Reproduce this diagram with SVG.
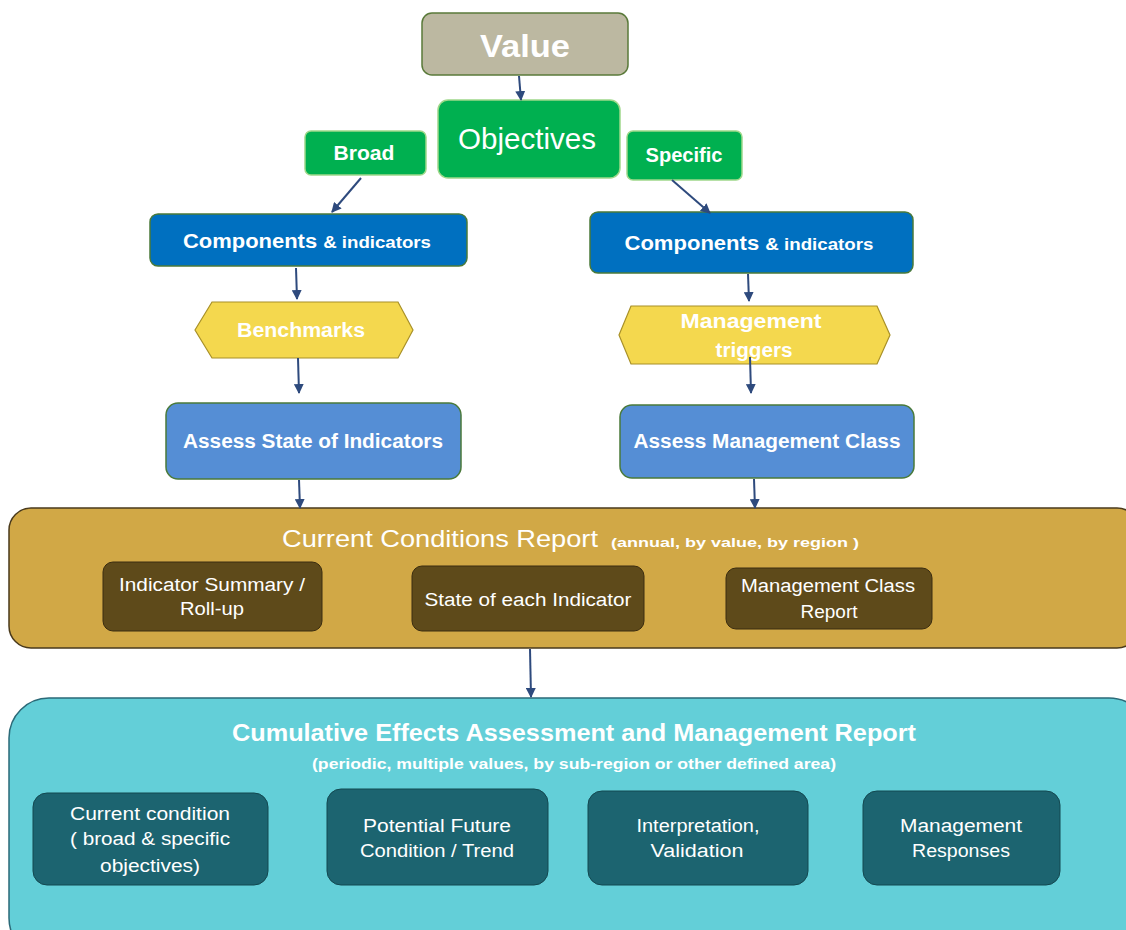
<svg xmlns="http://www.w3.org/2000/svg" width="1126" height="930" viewBox="0 0 1126 930">
<defs>
<marker id="ah" viewBox="0 0 10 10" refX="9" refY="5" markerWidth="5" markerHeight="5" orient="auto">
<path d="M0,0 L10,5 L0,10 z" fill="#2e4a7d"/>
</marker>
<style>
text{font-family:"Liberation Sans",Arial,sans-serif;fill:#ffffff;text-anchor:middle}
.b{font-weight:bold}
.green{fill:#00b050;stroke:#9fd88a;stroke-width:1.5}
.blue{fill:#0070c0;stroke:#4a7a3a;stroke-width:1.5}
.lblue{fill:#558ed5;stroke:#4a7a3a;stroke-width:1.5}
.hex{fill:#f4d84e;stroke:#a89028;stroke-width:1.2}
.brown{fill:#5e4a1a;stroke:#3a2c10;stroke-width:1}
.teal{fill:#1c6470;stroke:#134850;stroke-width:1}
.conn line{stroke:#2e4a7d;stroke-width:2;marker-end:url(#ah)}
</style>
</defs>
<rect width="1126" height="930" fill="#ffffff"/>

<g id="value">
<rect x="422" y="13" width="206" height="62" rx="10" fill="#bcb8a1" stroke="#5a7a3a" stroke-width="1.5"/>
<text x="525" y="57" class="b" font-size="32" textLength="90" lengthAdjust="spacingAndGlyphs">Value</text>
</g>
<g id="objectives">
<rect x="438" y="100" width="182" height="78" rx="10" class="green"/>
<text x="527" y="149" font-size="29" textLength="138" lengthAdjust="spacingAndGlyphs">Objectives</text>
</g>
<g id="broad">
<rect x="305" y="131" width="121" height="44" rx="6" class="green"/>
<text x="364" y="160" class="b" font-size="20" textLength="61" lengthAdjust="spacingAndGlyphs">Broad</text>
</g>
<g id="specific">
<rect x="627" y="131" width="115" height="49" rx="6" class="green"/>
<text x="684" y="162" class="b" font-size="20" textLength="77" lengthAdjust="spacingAndGlyphs">Specific</text>
</g>
<g id="comp-left">
<rect x="150" y="214" width="317" height="52" rx="8" class="blue"/>
<text x="307" y="248" class="b" font-size="20" textLength="248" lengthAdjust="spacingAndGlyphs">Components <tspan font-size="17">&amp; indicators</tspan></text>
</g>
<g id="comp-right">
<rect x="590" y="212" width="323" height="61" rx="8" class="blue"/>
<text x="749" y="250" class="b" font-size="20" textLength="249" lengthAdjust="spacingAndGlyphs">Components <tspan font-size="17">&amp; indicators</tspan></text>
</g>
<g id="benchmarks">
<polygon points="195,330 212,302 398,302 413,330 398,358 212,358" class="hex"/>
<text x="301" y="337" class="b" font-size="20" textLength="128" lengthAdjust="spacingAndGlyphs">Benchmarks</text>
</g>
<g id="triggers">
<polygon points="619,335 631,306 877,306 890,335 877,364 631,364" class="hex"/>
<text x="751" y="328" class="b" font-size="20" textLength="141" lengthAdjust="spacingAndGlyphs">Management</text>
<text x="754" y="357" class="b" font-size="20" textLength="77" lengthAdjust="spacingAndGlyphs">triggers</text>
</g>
<g id="assess-state">
<rect x="166" y="403" width="295" height="76" rx="12" class="lblue"/>
<text x="313" y="448" class="b" font-size="20" textLength="260" lengthAdjust="spacingAndGlyphs">Assess State of Indicators</text>
</g>
<g id="assess-mgmt">
<rect x="620" y="405" width="294" height="73" rx="12" class="lblue"/>
<text x="767" y="448" class="b" font-size="20" textLength="267" lengthAdjust="spacingAndGlyphs">Assess Management Class</text>
</g>

<g id="ccr">
<rect x="9" y="508" width="1130" height="140" rx="22" fill="#d1a846" stroke="#4a3a1c" stroke-width="1.5"/>
<text x="440" y="547" font-size="24" textLength="316" lengthAdjust="spacingAndGlyphs">Current Conditions Report</text>
<text x="735" y="547" class="b" font-size="13" textLength="248" lengthAdjust="spacingAndGlyphs">(annual,  by value,  by region )</text>
</g>
<g id="ccr-summary">
<rect x="103" y="562" width="219" height="69" rx="10" class="brown"/>
<text x="212" y="591" font-size="18" textLength="186" lengthAdjust="spacingAndGlyphs">Indicator Summary /</text>
<text x="212" y="615" font-size="18" textLength="64" lengthAdjust="spacingAndGlyphs">Roll-up</text>
</g>
<g id="ccr-state">
<rect x="412" y="566" width="232" height="65" rx="10" class="brown"/>
<text x="528" y="606" font-size="18" textLength="207" lengthAdjust="spacingAndGlyphs">State of each Indicator</text>
</g>
<g id="ccr-mgmt">
<rect x="726" y="568" width="206" height="61" rx="10" class="brown"/>
<text x="828" y="592" font-size="18" textLength="174" lengthAdjust="spacingAndGlyphs">Management Class</text>
<text x="829" y="618" font-size="18" textLength="57" lengthAdjust="spacingAndGlyphs">Report</text>
</g>

<g id="cea">
<rect x="9" y="698" width="1140" height="260" rx="40" fill="#63cfd8" stroke="#2b6a78" stroke-width="1.5"/>
<text x="574" y="741" class="b" font-size="24" textLength="684" lengthAdjust="spacingAndGlyphs">Cumulative Effects Assessment and Management Report</text>
<text x="574" y="769" class="b" font-size="14" textLength="524" lengthAdjust="spacingAndGlyphs">(periodic,  multiple  values, by sub-region  or other  defined  area)</text>
</g>
<g id="cea-current">
<rect x="33" y="793" width="235" height="92" rx="14" class="teal"/>
<text x="150" y="820" font-size="18" textLength="160" lengthAdjust="spacingAndGlyphs">Current condition</text>
<text x="150" y="845" font-size="18" textLength="160" lengthAdjust="spacingAndGlyphs">( broad &amp; specific</text>
<text x="150" y="872" font-size="18" textLength="100" lengthAdjust="spacingAndGlyphs">objectives)</text>
</g>
<g id="cea-future">
<rect x="327" y="789" width="221" height="96" rx="14" class="teal"/>
<text x="437" y="832" font-size="18" textLength="148" lengthAdjust="spacingAndGlyphs">Potential Future</text>
<text x="437" y="857" font-size="18" textLength="154" lengthAdjust="spacingAndGlyphs">Condition / Trend</text>
</g>
<g id="cea-interp">
<rect x="588" y="791" width="220" height="94" rx="14" class="teal"/>
<text x="698" y="832" font-size="18" textLength="123" lengthAdjust="spacingAndGlyphs">Interpretation,</text>
<text x="697" y="857" font-size="18" textLength="93" lengthAdjust="spacingAndGlyphs">Validation</text>
</g>
<g id="cea-resp">
<rect x="863" y="791" width="197" height="94" rx="14" class="teal"/>
<text x="961" y="832" font-size="18" textLength="122" lengthAdjust="spacingAndGlyphs">Management</text>
<text x="961" y="857" font-size="18" textLength="98" lengthAdjust="spacingAndGlyphs">Responses</text>
</g>

<g class="conn" id="connectors">
<line x1="519" y1="76" x2="521" y2="100"/>
<line x1="361" y1="178" x2="332" y2="212"/>
<line x1="672" y1="180" x2="710" y2="213"/>
<line x1="296" y1="268" x2="297" y2="299"/>
<line x1="748" y1="274" x2="749" y2="301"/>
<line x1="298" y1="358" x2="299" y2="393"/>
<line x1="750" y1="357" x2="751" y2="393"/>
<line x1="299" y1="480" x2="300" y2="508"/>
<line x1="754" y1="479" x2="755" y2="508"/>
<line x1="530" y1="649" x2="531" y2="697"/>
</g>
</svg>
